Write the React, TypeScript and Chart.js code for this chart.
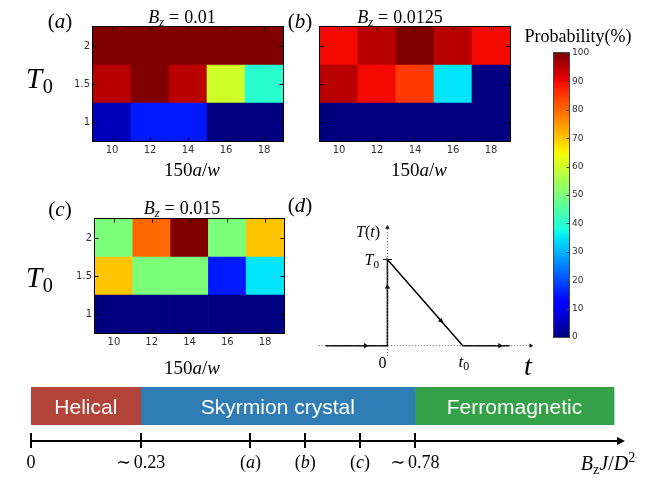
import React, { useEffect, useRef } from "react";
import { Chart, registerables } from "chart.js";
Chart.register(...registerables);

const W = 654;
const H = 481;

// ---------------- data ----------------
const xAW = [10, 12, 14, 16, 18]; // 150a/w
const yT0 = [1, 1.5, 2]; // T0 rows (bottom to top)
// probability (%) per row of yT0, per column of xAW
const probA = [
  [5, 15, 15, 0, 0],
  [95, 100, 95, 60, 40],
  [100, 100, 100, 100, 100],
];
const probB = [
  [0, 0, 0, 0, 0],
  [95, 90, 85, 35, 0],
  [90, 95, 100, 95, 90],
];
const probC = [
  [0, 0, 0, 0, 0],
  [70, 50, 50, 15, 35],
  [50, 80, 100, 50, 70],
];
const cbMin = 0;
const cbMax = 100;
const cbStep = 10;

const phaseNames = ["Helical", "Skyrmion crystal", "Ferromagnetic"];
const phaseStart = [0, 2, 7];
const phaseEnd = [2, 7, 10.63];
const phaseColors = ["#B2443A", "#2F7DB4", "#34A048"];
const phaseAxisMax = 10.83;
const phaseTickPos = [0, 2, 4, 5, 6, 7];

// schematic T(t) (t0 = 1, T0 = 1)
const schemT = [-0.82, 0, 0, 1, 1.62];
const schemTemp = [0, 0, 1, 0, 0];
const schemArrowT = [-0.29, 0, 0.71, 1.49];
const schemArrowTemp = [0, 0.68, 0.29, 0];
const schemArrowRot = [90, 0, 139, 90];
const schemXRange = [-0.92, 1.93];
const schemYRange = [-0.12, 1.4];

// ---------------- helpers ----------------
const SERIF = '"Liberation Serif", "DejaVu Serif", serif';
const SANS = '"DejaVu Sans", "Liberation Sans", sans-serif';

type Seg = { t: string; i?: boolean; sub?: boolean; sup?: boolean; pl?: number; pr?: number };

function drawMath(
  ctx: CanvasRenderingContext2D,
  segs: Seg[],
  x: number,
  y: number,
  size: number,
  align: "left" | "center" | "right" = "center",
  color = "#000"
) {
  ctx.save();
  ctx.fillStyle = color;
  ctx.textBaseline = "alphabetic";
  ctx.textAlign = "left";
  const items: { s: Seg; fs: number; x: number }[] = [];
  let w = 0;
  for (const s of segs) {
    const fs = s.sub || s.sup ? size * 0.7 : size;
    ctx.font = `${s.i ? "italic " : ""}${fs}px ${SERIF}`;
    w += (s.pl || 0) * size;
    items.push({ s, fs, x: w });
    w += ctx.measureText(s.t).width + (s.pr || 0) * size;
  }
  const x0 = align === "center" ? x - w / 2 : align === "right" ? x - w : x;
  for (const it of items) {
    ctx.font = `${it.s.i ? "italic " : ""}${it.fs}px ${SERIF}`;
    const dy = it.s.sub ? size * 0.18 : it.s.sup ? -size * 0.4 : 0;
    ctx.fillText(it.s.t, x0 + it.x, y + dy);
  }
  ctx.restore();
}

function interp(pts: number[][], v: number) {
  for (let k = 1; k < pts.length; k++) {
    if (v <= pts[k][0]) {
      const [x0, y0] = pts[k - 1];
      const [x1, y1] = pts[k];
      return y0 + ((v - x0) / (x1 - x0)) * (y1 - y0);
    }
  }
  return pts[pts.length - 1][1];
}
function jet(v: number) {
  v = Math.max(0, Math.min(1, v));
  const r = interp([[0, 0], [0.35, 0], [0.66, 1], [0.89, 1], [1, 0.5]], v);
  const g = interp([[0, 0], [0.125, 0], [0.375, 1], [0.64, 1], [0.91, 0], [1, 0]], v);
  const b = interp([[0, 0.5], [0.11, 1], [0.34, 1], [0.65, 0], [1, 0]], v);
  return `rgb(${Math.round(r * 255)},${Math.round(g * 255)},${Math.round(b * 255)})`;
}

const textPlugin = (draw: (ctx: CanvasRenderingContext2D, chart: any) => void) => ({
  id: "texts",
  afterDraw(chart: any) {
    const ctx = chart.ctx as CanvasRenderingContext2D;
    ctx.save();
    draw(ctx, chart);
    ctx.restore();
  },
});

const framePlugin = (color: string, xt: number[] | null, yt: number[] | null, len: number, yRightOnly = false) => ({
  id: "frame",
  afterDatasetsDraw(chart: any) {
    const { ctx, chartArea: a, scales } = chart;
    ctx.save();
    ctx.strokeStyle = color;
    ctx.lineWidth = 1;
    const L = Math.round(a.left) - 0.5;
    const R = Math.round(a.right) + 0.5;
    const T = Math.round(a.top) - 0.5;
    const B = Math.round(a.bottom) + 0.5;
    ctx.strokeRect(L, T, R - L, B - T);
    ctx.beginPath();
    if (xt) {
      for (const v of xt) {
        const px = Math.round(scales.x.getPixelForValue(v)) + 0.5;
        ctx.moveTo(px, B);
        ctx.lineTo(px, B - len);
        ctx.moveTo(px, T);
        ctx.lineTo(px, T + len);
      }
    }
    if (yt) {
      for (const v of yt) {
        const py = Math.round(scales.y.getPixelForValue(v)) + 0.5;
        if (!yRightOnly) {
          ctx.moveTo(L, py);
          ctx.lineTo(L + len, py);
        }
        ctx.moveTo(R, py);
        ctx.lineTo(R - len, py);
      }
    }
    ctx.stroke();
    ctx.restore();
  },
});

const baseOpts = (pad: any) => ({
  responsive: false,
  animation: false as const,
  events: [] as any[],
  layout: { padding: pad },
  plugins: { legend: { display: false }, tooltip: { enabled: false } },
});

const titleSegs = (val: string): Seg[] => [
  { t: "B", i: true },
  { t: "z", i: true, sub: true },
  { t: "=", pl: 0.28, pr: 0.28 },
  { t: val },
];
const xLabelSegs: Seg[] = [{ t: "150" }, { t: "a", i: true }, { t: "/" }, { t: "w", i: true }];
const T0Segs: Seg[] = [{ t: "T", i: true }, { t: "0", sub: true, pl: 0.02 }];
const panelSegs = (c: string): Seg[] => [{ t: "(" }, { t: c, i: true }, { t: ")" }];

function heatCfg(prob: number[][], pad: any, showY: boolean, draw: (ctx: CanvasRenderingContext2D) => void) {
  const half = (yT0[1] - yT0[0]) / 2;
  const xHalf = (xAW[1] - xAW[0]) / 2;
  return {
    type: "bar",
    data: {
      datasets: yT0.map((t, r) => ({
        data: xAW.map((x) => ({ x, y: [t - half, t + half] })),
        backgroundColor: prob[r].map((v) => jet(v / 100)),
        borderWidth: 0,
        grouped: false,
        barPercentage: 1,
        categoryPercentage: 1,
      })),
    },
    options: {
      ...baseOpts(pad),
      scales: {
        x: {
          type: "linear",
          offset: false,
          min: xAW[0] - xHalf,
          max: xAW[xAW.length - 1] + xHalf,
          grid: { display: false, drawTicks: false, offset: false },
          border: { display: false },
          afterBuildTicks: (s: any) => {
            s.ticks = xAW.map((v) => ({ value: v }));
          },
          afterFit: (s: any) => {
            s.height = 20;
          },
          ticks: { font: { family: SANS, size: 10 }, color: "#333", padding: 3, callback: (v: any) => String(v) },
        },
        y: {
          type: "linear",
          min: yT0[0] - half,
          max: yT0[yT0.length - 1] + half,
          grid: { display: false, drawTicks: false },
          border: { display: false },
          afterBuildTicks: (s: any) => {
            s.ticks = yT0.map((v) => ({ value: v }));
          },
          afterFit: (s: any) => {
            s.width = 30;
          },
          ticks: {
            display: showY,
            font: { family: SANS, size: 10 },
            color: "#333",
            padding: 3,
            callback: (v: any) => String(v),
          },
        },
      },
    },
    plugins: [framePlugin("#000", xAW, yT0, 4), textPlugin((ctx) => draw(ctx))],
  };
}

const cfgA = () =>
  heatCfg(probA, { left: 63, right: 371, top: 27, bottom: 320 }, true, (ctx) => {
    drawMath(ctx, titleSegs("0.01"), 182, 23, 18);
    drawMath(ctx, panelSegs("a"), 60, 28, 21);
    drawMath(ctx, T0Segs, 26, 88, 29, "left");
    drawMath(ctx, xLabelSegs, 192, 176, 19);
  });
const cfgB = () =>
  heatCfg(probB, { left: 290, right: 144, top: 27, bottom: 320 }, false, (ctx) => {
    drawMath(ctx, titleSegs("0.0125"), 400, 23, 18);
    drawMath(ctx, panelSegs("b"), 300, 28, 21);
    drawMath(ctx, xLabelSegs, 419, 176, 19);
  });
const cfgC = () =>
  heatCfg(probC, { left: 65, right: 370, top: 219, bottom: 128 }, true, (ctx) => {
    drawMath(ctx, titleSegs("0.015"), 182, 214, 18);
    drawMath(ctx, panelSegs("c"), 60, 216, 21);
    drawMath(ctx, T0Segs, 26, 287, 29, "left");
    drawMath(ctx, xLabelSegs, 192, 374, 19);
  });

const cbTickVals: number[] = [];
for (let v = cbMin; v <= cbMax; v += cbStep) cbTickVals.push(v);

const cfgCb = () => ({
  type: "bar",
  data: {
    labels: [""],
    datasets: [
      {
        data: [[cbMin, cbMax]],
        backgroundColor: (c: any) => {
          const ca = c.chart.chartArea;
          if (!ca) return "#000";
          const g = c.chart.ctx.createLinearGradient(0, ca.bottom, 0, ca.top);
          for (let k = 0; k <= 100; k++) g.addColorStop(k / 100, jet(k / 100));
          return g;
        },
        borderWidth: 0,
        barPercentage: 1,
        categoryPercentage: 1,
      },
    ],
  },
  options: {
    ...baseOpts({ left: 554, right: 55, top: 53, bottom: 144 }),
    scales: {
      x: { display: false },
      y: {
        position: "right",
        min: cbMin,
        max: cbMax,
        grid: { display: false, drawTicks: false },
        border: { display: false },
        afterFit: (s: any) => {
          s.width = 30;
        },
        ticks: { stepSize: cbStep, font: { family: SANS, size: 9 }, color: "#333", padding: 3 },
      },
    },
  },
  plugins: [
    framePlugin("#444", null, cbTickVals, 3, true),
    textPlugin((ctx) => {
      drawMath(ctx, [{ t: "Probability(%)" }], 578, 42, 18);
    }),
  ],
});

const cfgSchem = () => ({
  type: "scatter",
  data: {
    datasets: [
      {
        data: [
          { x: schemXRange[0] + 0.01, y: 0 },
          { x: schemXRange[1] - 0.01, y: 0 },
        ],
        showLine: true,
        borderColor: "#555",
        borderWidth: 1,
        borderDash: [1, 2],
        pointRadius: 0,
        clip: false,
      },
      {
        data: [
          { x: 0, y: schemYRange[0] },
          { x: 0, y: schemYRange[1] - 0.01 },
        ],
        showLine: true,
        borderColor: "#555",
        borderWidth: 1,
        borderDash: [1, 2],
        pointRadius: 0,
        clip: false,
      },
      {
        data: schemT.map((t, k) => ({ x: t, y: schemTemp[k] })),
        showLine: true,
        borderColor: "#000",
        borderWidth: 1.5,
        pointRadius: 0,
        clip: false,
      },
      {
        data: [
          { x: -0.06, y: 1 },
          { x: 0.06, y: 1 },
        ],
        showLine: true,
        borderColor: "#000",
        borderWidth: 1,
        pointRadius: 0,
        clip: false,
      },
      {
        data: schemArrowT.map((t, k) => ({ x: t, y: schemArrowTemp[k] })),
        pointStyle: "triangle",
        rotation: schemArrowRot,
        pointRadius: 3,
        backgroundColor: "#000",
        borderColor: "#000",
        borderWidth: 0,
        clip: false,
      },
      {
        data: [
          { x: schemXRange[1] - 0.03, y: 0 },
          { x: 0, y: schemYRange[1] - 0.03 },
        ],
        pointStyle: "triangle",
        rotation: [90, 0],
        pointRadius: 2.5,
        backgroundColor: "#000",
        borderColor: "#000",
        borderWidth: 0,
        clip: false,
      },
    ],
  },
  options: {
    ...baseOpts({ left: 318, right: 121, top: 225, bottom: 125 }),
    scales: {
      x: { type: "linear", display: false, min: schemXRange[0], max: schemXRange[1] },
      y: { type: "linear", display: false, min: schemYRange[0], max: schemYRange[1] },
    },
  },
  plugins: [
    textPlugin((ctx, chart) => {
      const sx = chart.scales.x;
      drawMath(ctx, panelSegs("d"), 300, 212, 21);
      drawMath(ctx, [{ t: "T", i: true }, { t: "(" }, { t: "t", i: true }, { t: ")" }], 380, 237, 16, "right");
      drawMath(ctx, [{ t: "T", i: true }, { t: "0", sub: true }], 379, 265, 16, "right");
      drawMath(ctx, [{ t: "0" }], sx.getPixelForValue(0) - 5, 368, 16);
      drawMath(ctx, [{ t: "t", i: true }, { t: "0", sub: true }], sx.getPixelForValue(1) + 1, 367, 17);
      drawMath(ctx, [{ t: "t", i: true }], 528, 375, 28);
    }),
  ],
});

const phaseTickLabels: Seg[][] = [
  [{ t: "0" }],
  [{ t: "∼", pr: 0.15 }, { t: "0.23" }],
  panelSegs("a"),
  panelSegs("b"),
  panelSegs("c"),
  [{ t: "∼", pr: 0.15 }, { t: "0.78" }],
];

const cfgPhase = () => ({
  type: "bar",
  data: {
    labels: [""],
    datasets: phaseNames.map((n, k) => ({
      label: n,
      data: [[phaseStart[k], phaseEnd[k]]],
      backgroundColor: phaseColors[k],
      borderWidth: 0,
      grouped: false,
      barPercentage: 1,
      categoryPercentage: 1,
    })),
  },
  options: {
    ...baseOpts({ left: 31, right: 29, top: 387, bottom: 56 }),
    indexAxis: "y",
    scales: {
      x: { type: "linear", display: false, min: 0, max: phaseAxisMax },
      y: { display: false },
    },
  },
  plugins: [
    textPlugin((ctx, chart) => {
      const sx = chart.scales.x;
      const a = chart.chartArea;
      // phase names
      ctx.fillStyle = "#fff";
      ctx.font = `21px "Liberation Sans", sans-serif`;
      ctx.textAlign = "center";
      ctx.textBaseline = "alphabetic";
      phaseNames.forEach((n, k) => {
        const cx = (sx.getPixelForValue(phaseStart[k]) + sx.getPixelForValue(phaseEnd[k])) / 2;
        ctx.fillText(n, cx, a.bottom - 11);
      });
      // axis line with arrow
      const ay = a.bottom + 16;
      const x0 = sx.getPixelForValue(0);
      const x1 = sx.getPixelForValue(phaseAxisMax);
      ctx.strokeStyle = "#000";
      ctx.lineWidth = 2;
      ctx.beginPath();
      ctx.moveTo(x0, ay);
      ctx.lineTo(x1 - 6, ay);
      ctx.stroke();
      ctx.fillStyle = "#000";
      ctx.beginPath();
      ctx.moveTo(x1, ay);
      ctx.lineTo(x1 - 8, ay - 4);
      ctx.lineTo(x1 - 8, ay + 4);
      ctx.closePath();
      ctx.fill();
      // ticks
      ctx.beginPath();
      phaseTickPos.forEach((p) => {
        const px = Math.round(sx.getPixelForValue(p));
        ctx.moveTo(px, ay - 8);
        ctx.lineTo(px, ay + 7);
      });
      ctx.stroke();
      phaseTickPos.forEach((p, k) => {
        drawMath(ctx, phaseTickLabels[k], sx.getPixelForValue(p), 468, 18);
      });
      drawMath(
        ctx,
        [
          { t: "B", i: true },
          { t: "z", sub: true },
          { t: "J", i: true },
          { t: "/" },
          { t: "D", i: true },
          { t: "2", sup: true },
        ],
        608,
        470,
        20
      );
    }),
  ],
});

export default function App() {
  const refs = useRef<(HTMLCanvasElement | null)[]>([]);
  useEffect(() => {
    document.body.style.margin = "0";
    document.body.style.background = "#fff";
    const cfgs = [cfgA, cfgB, cfgC, cfgCb, cfgSchem, cfgPhase];
    const charts = cfgs.map((f, i) => new Chart(refs.current[i] as HTMLCanvasElement, f() as any));
    return () => charts.forEach((c) => c.destroy());
  }, []);
  return (
    <div style={{ position: "relative", width: W, height: H, background: "#fff", overflow: "hidden" }}>
      {[0, 1, 2, 3, 4, 5].map((i) => (
        <canvas
          key={i}
          ref={(el) => {
            refs.current[i] = el;
          }}
          width={W}
          height={H}
          style={{ position: "absolute", left: 0, top: 0, width: W, height: H }}
        />
      ))}
    </div>
  );
}
